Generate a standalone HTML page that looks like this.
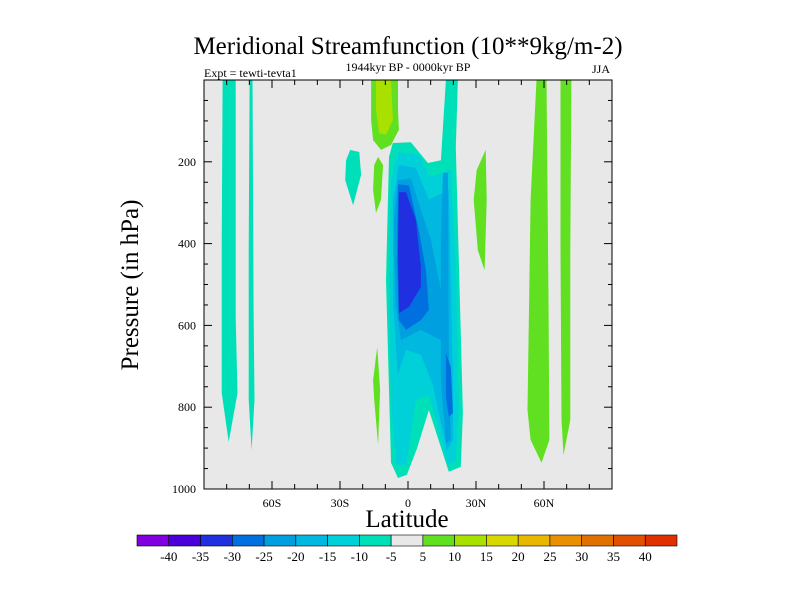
<!DOCTYPE html>
<html><head><meta charset="utf-8"><style>
body{margin:0;background:#fff;}
svg text{font-family:"Liberation Serif",serif;fill:#000;}
</style></head><body>
<svg id="chart" width="800" height="600" xmlns="http://www.w3.org/2000/svg">
<text x="408" y="54" font-size="25" text-anchor="middle">Meridional Streamfunction (10**9kg/m-2)</text>
<text x="408" y="71" font-size="12" text-anchor="middle">1944kyr BP - 0000kyr BP</text>
<text x="204" y="77" font-size="12">Expt = tewti-tevta1</text>
<text x="610" y="73" font-size="12" text-anchor="end">JJA</text>
<text transform="translate(138,285) rotate(-90)" font-size="25" text-anchor="middle">Pressure (in hPa)</text>
<text x="407" y="527" font-size="25" text-anchor="middle">Latitude</text>
<rect x="204" y="80" width="408" height="409" fill="#e8e8e8"/>
<g id="contours"></g>
<g id="axes"></g>
<rect x="204" y="80" width="408" height="409" fill="none" stroke="#000" stroke-width="1"/>
<g id="cbar"></g>
</svg>
<script>
const levelColors=["#8000e0","#4a00d8","#2030e0","#0070e0","#00a0e0","#00b8e0","#00d0d8","#00e0b8","#e8e8e8","#60e020","#a8e000","#d8d800","#e8b800","#e89000","#e07000","#e05000","#e03000"];
const levelLabels=["-40","-35","-30","-25","-20","-15","-10","-5","5","10","15","20","25","30","35","40"];
const yTicks=[200,400,600,800,1000];
const xTicks=[-60,-30,0,30,60];
const xTickLabels=["60S","30S","0","30N","60N"];
// contour regions: [colorIndex, polygon of [lat, pressure]]
const regionLevels=[7,7,9,9,9,10,9,7,9,9,7,6,5,4,4,3,3,2];
const regionShapes=[
[[-81.8,0],[-76,0],[-76,582],[-75.2,765],[-79.1,885],[-82.2,765],[-82.2,408]],
[[-69.9,0],[-68.6,0],[-68.1,562],[-67.7,782],[-69,905],[-70.3,782],[-70.3,416]],
[[56.7,0],[61.1,0],[62,538],[62.4,880],[58.9,936],[54.1,880],[52.7,807],[54.1,293]],
[[67.3,0],[72.1,0],[71.6,416],[71.6,831],[68.6,917],[67.7,831],[67.3,416]],
[[-16.3,0],[-4.4,0],[-4.4,73],[-4,122],[-7.5,159],[-11.9,171],[-15.4,147],[-16.3,98]],
[[-14.1,0],[-7.5,0],[-6.6,98],[-9.7,134],[-12.7,130],[-14.1,73]],
[[-13.2,188],[-11,208],[-11.9,293],[-14.1,325],[-15.4,269],[-14.9,208]],
[[-25.5,171],[-21.5,176],[-20.7,232],[-24.2,306],[-27.7,245],[-27.3,196]],
[[-13.6,653],[-12.3,758],[-13.2,892],[-14.9,782],[-15.4,734]],
[[34.3,171],[34.7,293],[33.8,465],[30.8,416],[29,293],[30.3,220]],
[[-6.7,154],[1.3,152],[8.8,203],[14.5,196],[16.7,0],[22,0],[21.1,164],[24.2,814],[23.3,946],[18,958],[9.2,807],[4,900],[-0.5,965],[-4.4,973],[-7.5,936],[-9.7,489],[-8.4,188]],
[[-4.4,176],[4.8,183],[10.1,237],[18.9,220],[21.1,440],[22.4,807],[21.1,929],[17.6,941],[12.3,831],[9.2,770],[3.5,782],[-0.9,941],[-5.3,941],[-7.5,782],[-8.4,489],[-7.5,245]],
[[-4,208],[3.5,215],[9.2,293],[18,269],[19.8,734],[19.8,880],[17.1,905],[11,746],[5.7,672],[-0.9,660],[-4.5,720],[-6.6,538],[-6.6,293]],
[[-4.4,245],[1.3,240],[5.7,318],[10.1,391],[14.5,513],[16.7,611],[14.5,636],[5.7,611],[-3.1,636],[-5.7,538],[-6.2,342]],
[[15.4,227],[17.6,227],[18,653],[18.9,880],[16.7,888],[14.5,734],[14.5,408]],
[[-4.4,255],[0.4,258],[4.8,367],[7.9,465],[9.2,562],[5.7,587],[-0.9,611],[-4,587],[-4.8,440]],
[[16.7,667],[18.9,702],[19.8,814],[18,824],[16.7,775]],
[[-4,274],[-0.9,274],[3.5,342],[5.7,457],[5.7,506],[0.4,555],[-4,570],[-4.4,408]]
];
const X0=204,X1=612,Y0=80,Y1=489;
const xs=lat=>X0+(lat+90)/180*(X1-X0);
const ys=p=>Y0+p/1000*(Y1-Y0);
const NS="http://www.w3.org/2000/svg";
const mk=(t,a,parent)=>{const e=document.createElementNS(NS,t);for(const k in a)e.setAttribute(k,a[k]);parent.appendChild(e);return e;};
const cg=document.getElementById('contours');
regionShapes.forEach((shape,i)=>{
  const pts=shape.map(d=>xs(d[0]).toFixed(1)+","+ys(d[1]).toFixed(1)).join(" ");
  const el=mk('polygon',{points:pts,fill:levelColors[regionLevels[i]]},cg);
  
  
});
const ax=document.getElementById('axes');
for(let p=50;p<=1000;p+=50){
  const major=p%200===0;const L=major?8:4;const y=ys(p);
  mk('line',{x1:X0,x2:X0+L,y1:y,y2:y,stroke:"#000"},ax);
  mk('line',{x1:X1,x2:X1-L,y1:y,y2:y,stroke:"#000"},ax);
}
yTicks.forEach(v=>{
  const t=mk('text',{x:X0-8,y:ys(v)+4,"font-size":12,"text-anchor":"end"},ax);t.textContent=v;
  
  
});
for(let l=-80;l<=80;l+=10){
  const major=l%30===0;const L=major?8:5;const x=xs(l);
  mk('line',{x1:x,x2:x,y1:Y1,y2:Y1-L,stroke:"#000"},ax);
  mk('line',{x1:x,x2:x,y1:Y0,y2:Y0+L,stroke:"#000"},ax);
}
xTicks.forEach((v,i)=>{
  const t=mk('text',{x:xs(v),y:Y1+18,"font-size":12,"text-anchor":"middle"},ax);t.textContent=xTickLabels[i];
  
  
});
const cb=document.getElementById('cbar');
const bx=137,bw=540/17,by=535,bh=11;
levelColors.forEach((c,i)=>{
  const r=mk('rect',{x:bx+i*bw,y:by,width:bw,height:bh,fill:c,stroke:"#000","stroke-width":0.6},cb);
  
  
});
levelLabels.forEach((s,i)=>{
  const t=mk('text',{x:bx+(i+1)*bw,y:561,"font-size":13,"text-anchor":"middle"},cb);t.textContent=s;
  
  
});
</script>
</body></html>
